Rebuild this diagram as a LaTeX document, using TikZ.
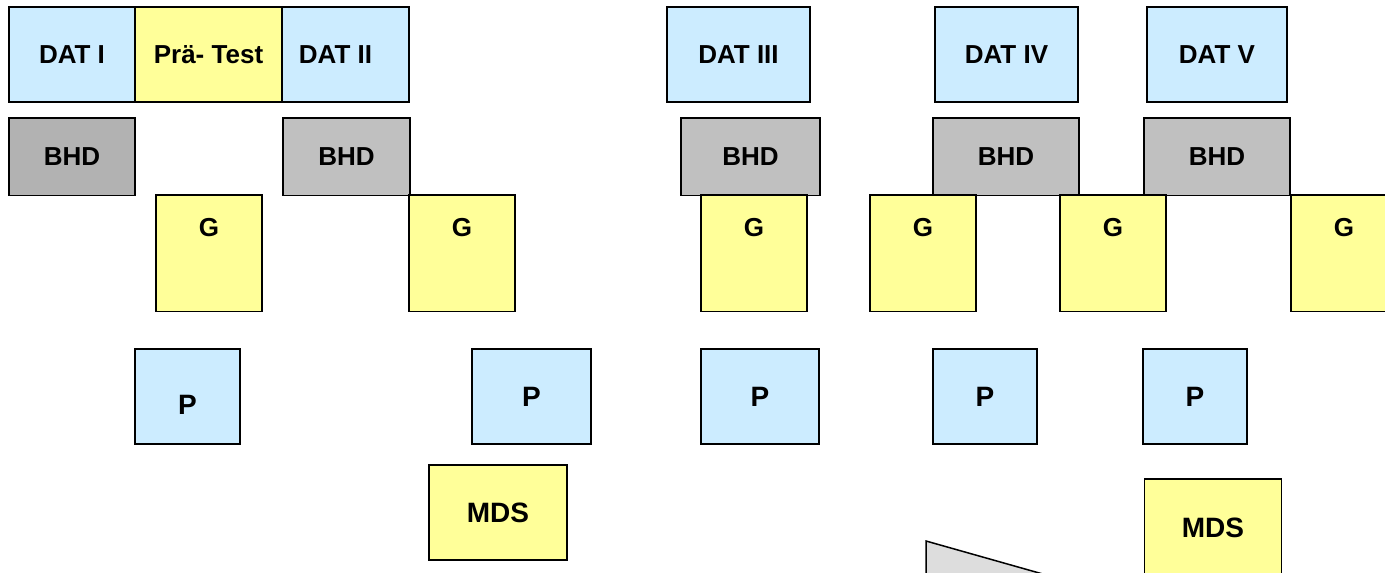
\documentclass[tikz,border=0pt]{standalone}
\usepackage{fontspec}
\setmainfont{Liberation Sans}
\usepackage{xcolor}
\usepackage{tikz}
\usetikzlibrary{positioning}

\definecolor{datblue}{HTML}{CCECFF}
\definecolor{testyellow}{HTML}{FFFF99}
\definecolor{bhdgray}{HTML}{C0C0C0}
\definecolor{bhddark}{HTML}{B2B2B2}
\definecolor{wedgegray}{HTML}{DDDDDD}

\begin{document}
\begin{tikzpicture}[
        x=1pt, y=-1pt,
        font=\bfseries\fontsize{26}{30}\selectfont,
        box/.style={draw=black, line width=1.5pt, inner sep=0pt, minimum height=95pt},
        dat/.style={box, fill=datblue},
        pretest/.style={box, fill=testyellow},
        bhd/.style={box, fill=bhdgray, minimum height=77.5pt},
        gbox/.style={box, fill=testyellow, minimum width=106pt, minimum height=116.5pt,
                     label={[anchor=center, yshift=-33pt]north:G}},
        pbox/.style={box, fill=datblue, font=\bfseries\fontsize{28}{32}\selectfont},
        mds/.style={box, fill=testyellow, font=\bfseries\fontsize{28}{32}\selectfont},
        every label/.style={inner sep=0pt, font=\bfseries\fontsize{26}{30}\selectfont}
    ]
        \path[use as bounding box, clip] (0,0) rectangle (1385,573);

        \node[dat, minimum width=126pt] (datI) at (72, 54.5) {DAT I};
        \node[dat, minimum width=127pt, label={[xshift=-10pt]center:DAT II}] (datII) at (345.5, 54.5) {};
        \node[pretest, minimum width=147pt] (pre) at (208.5, 54.5) {Prä- Test};
        \node[dat, minimum width=143pt] (datIII) at (738.5, 54.5) {DAT III};
        \node[dat, minimum width=143pt] (datIV) at (1006.5, 54.5) {DAT IV};
        \node[dat, minimum width=140pt] (datV) at (1217, 54.5) {DAT V};

        \node[bhd, fill=bhddark, minimum width=126pt] (bhdI) at (72, 156.75) {BHD};
        \node[bhd, minimum width=127pt] (bhdII) at (346.5, 156.75) {BHD};
        \node[bhd, minimum width=139pt] (bhdIII) at (750.5, 156.75) {BHD};
        \node[bhd, minimum width=146pt] (bhdIV) at (1006, 156.75) {BHD};
        \node[bhd, minimum width=146pt] (bhdV) at (1217, 156.75) {BHD};

        \node[gbox] (gI) at (209, 253.25) {};
        \node[gbox] (gII) at (462, 253.25) {};
        \node[gbox] (gIII) at (754, 253.25) {};
        \node[gbox] (gIV) at (923, 253.25) {};
        \node[gbox] (gV) at (1113, 253.25) {};
        \node[gbox] (gVI) at (1344, 253.25) {};

        \node[pbox, minimum width=105pt,
              label={[yshift=-8.5pt, font=\bfseries\fontsize{28}{32}\selectfont]center:P}] (pI) at (187.5, 396.5) {};
        \node[pbox, minimum width=119pt] (pII) at (531.5, 396.5) {P};
        \node[pbox, minimum width=118pt] (pIII) at (760, 396.5) {P};
        \node[pbox, minimum width=104pt] (pIV) at (985, 396.5) {P};
        \node[pbox, minimum width=104pt] (pV) at (1195, 396.5) {P};

        \node[mds, minimum width=138pt] (mdsI) at (498, 512.5) {MDS};
        \node[mds, minimum width=137pt, minimum height=98pt] (mdsII) at (1213, 528) {MDS};

        \draw[line width=1.5pt, fill=wedgegray] (926, 541) -- (1110, 593) -- (926, 593) -- cycle;
    \end{tikzpicture}
\end{document}
